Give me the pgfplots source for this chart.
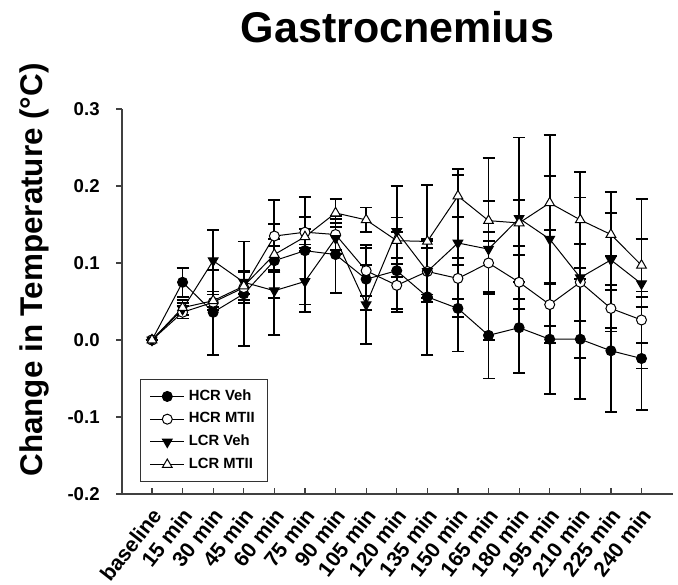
\documentclass[border=0pt]{standalone}
\usepackage{fontspec}
\setmainfont{Liberation Sans}
\usepackage{pgfplots}
\usepackage{pgfplotstable}
\pgfplotsset{compat=1.18}
\usetikzlibrary{calc}

% x = time point index, y = mean change, e = error
\pgfplotstableread{
x y e
0 0 0
1 0.075 0.019
2 0.036 0.055
3 0.060 0.068
4 0.103 0.048
5 0.116 0.070
6 0.111 0.050
7 0.079 0.040
8 0.090 0.050
9 0.056 0.075
10 0.041 0.056
11 0.006 0.056
12 0.016 0.059
13 0.001 0.071
14 0.001 0.078
15 -0.014 0.079
16 -0.024 0.067
}\hcrveh
\pgfplotstableread{
x y e
0 0 0
1 0.036 0.008
2 0.049 0.010
3 0.068 0.020
4 0.135 0.047
5 0.140 0.020
6 0.137 0.020
7 0.090 0.033
8 0.071 0.035
9 0.089 0.030
10 0.080 0.027
11 0.100 0.040
12 0.075 0.035
13 0.046 0.028
14 0.075 0.050
15 0.041 0.030
16 0.026 0.030
}\hcrmt
\pgfplotstableread{
x y e
0 0 0
1 0.040 0.008
2 0.103 0.040
3 0.075 0.015
4 0.064 0.058
5 0.076 0.040
6 0.132 0.020
7 0.046 0.051
8 0.141 0.059
9 0.089 0.040
10 0.126 0.096
11 0.118 0.118
12 0.158 0.105
13 0.131 0.135
14 0.081 0.104
15 0.104 0.088
16 0.073 0.110
}\lcrveh
\pgfplotstableread{
x y e
0 0 0
1 0.042 0.010
2 0.051 0.008
3 0.070 0.018
4 0.111 0.020
5 0.134 0.010
6 0.165 0.018
7 0.156 0.016
8 0.129 0.030
9 0.128 0.073
10 0.187 0.027
11 0.155 0.026
12 0.152 0.030
13 0.178 0.035
14 0.156 0.062
15 0.137 0.028
16 0.097 0.034
}\lcrmt

\begin{document}
\begin{tikzpicture}
\begin{axis}[
  scale only axis,width=275.5pt,height=192.5pt,
  xmin=-0.98,xmax=17.03,ymin=-0.2,ymax=0.3,
  axis x line*=bottom,axis y line*=left,
  axis line style={-,line width=0.7pt,black!75},
  xtick={0,...,16},
  xticklabels={baseline,15 min,30 min,45 min,60 min,75 min,90 min,105 min,120 min,135 min,150 min,165 min,180 min,195 min,210 min,225 min,240 min},
  ytick={-0.2,-0.1,0,0.1,0.2,0.3},
  yticklabels={-0.2,-0.1,0.0,0.1,0.2,0.3},
  tick align=inside,major tick length=3pt,
  tick style={line width=0.6pt,black!75},
  ytick style={xshift=-3pt},
  yticklabel style={font=\fontsize{9.3}{11}\selectfont\bfseries,anchor=east,inner sep=0pt,xshift=-11pt},
  xticklabel style={font=\fontsize{10.6}{12}\selectfont\bfseries,rotate=52,anchor=east,inner sep=0pt,xshift=-5.2pt,yshift=-7.2pt},
  title={Gastrocnemius},
  title style={font=\fontsize{21.5}{24}\selectfont\bfseries,at={(0.5,1)},anchor=base,yshift=27.5pt},
  ylabel={Change in Temperature (°C)},
  ylabel style={font=\fontsize{15.7}{18}\selectfont\bfseries,at={(rel axis cs:0,0.582)},anchor=base,yshift=39.5pt},
  legend style={at={(rel axis cs:0.0327,0.299)},anchor=north west,
    font=\fontsize{7.4}{9}\selectfont\bfseries,draw=black!80,line width=0.7pt,
    row sep=0.6pt,inner xsep=4.5pt,inner ysep=3pt},
  legend cell align=left,
  every axis plot/.append style={line width=0.5pt,black},
  error bars/y dir=both,error bars/y explicit,
  error bars/error bar style={line width=0.9pt},
  error bars/error mark options={rotate=90,mark size=3pt,line width=0.9pt,black},
]
\addplot[mark=*,mark size=2.5pt,mark options={fill=black,line width=0.5pt}]
  table[x=x,y=y,y error=e]{\hcrveh};
\addlegendentry{HCR Veh}
\addplot[mark=*,mark size=2.5pt,mark options={fill=white,line width=0.5pt}]
  table[x=x,y=y,y error=e]{\hcrmt};
\addlegendentry{HCR MTII}
\addplot[mark=triangle*,mark size=2.8pt,mark options={fill=black,rotate=180,line width=0.5pt}]
  table[x=x,y=y,y error=e]{\lcrveh};
\addlegendentry{LCR Veh}
\addplot[mark=triangle*,mark size=2.8pt,mark options={fill=white,line width=0.5pt}]
  table[x=x,y=y,y error=e]{\lcrmt};
\addlegendentry{LCR MTII}
\coordinate (O) at (rel axis cs:0,0);
\end{axis}
\pgfresetboundingbox
\path[use as bounding box] ($(O)+(-61pt,-45pt)$) rectangle ($(O)+(278pt,247pt)$);
\end{tikzpicture}
\end{document}
